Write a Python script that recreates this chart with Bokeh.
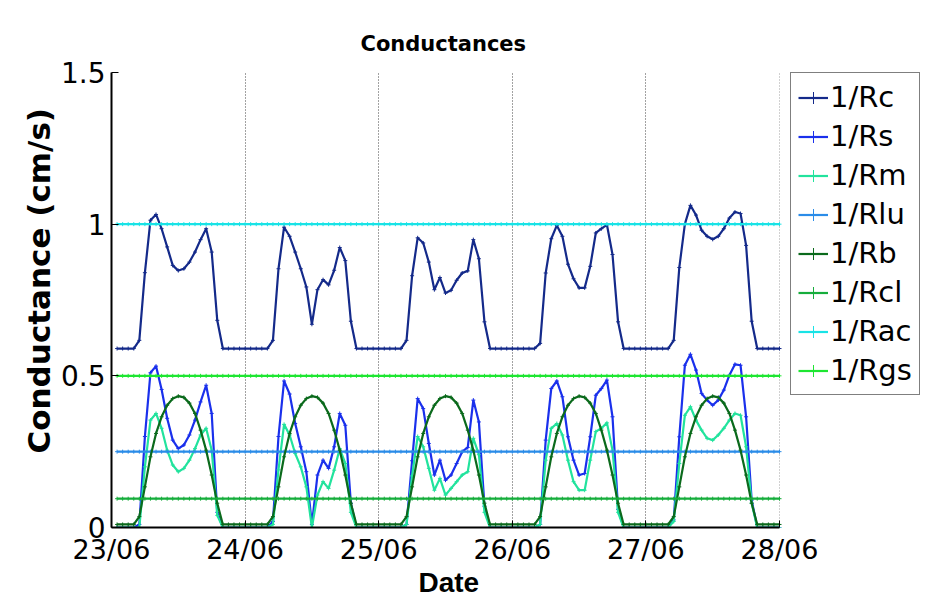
from datetime import datetime, timedelta
from bokeh.plotting import figure
from bokeh.models import (Legend, LegendItem, FixedTicker, DatetimeTickFormatter,
                          Range1d, ColumnDataSource, BoxAnnotation, Title)
from bokeh.embed import file_html
from bokeh.resources import INLINE

# ---------------- data (hourly, 23/06 01:00 .. 28/06 00:00) ----------------
start = datetime(2014, 6, 23, 0, 0)
end = datetime(2014, 6, 28, 0, 0)
hours = list(range(1, 121))

rc = [0.59, 0.59, 0.59, 0.59,
      0.617, 0.84, 1.013, 1.032, 0.985, 0.925, 0.864, 0.847, 0.853, 0.875, 0.908, 0.949, 0.985, 0.908, 0.683,
      0.59, 0.59, 0.59, 0.59, 0.59, 0.59, 0.59, 0.59, 0.59,
      0.617, 0.853, 0.99, 0.96, 0.908, 0.853, 0.793, 0.67, 0.784, 0.817, 0.80, 0.848, 0.923, 0.88, 0.68,
      0.59, 0.59, 0.59, 0.59, 0.59, 0.59, 0.59, 0.59, 0.59,
      0.617, 0.83, 0.955, 0.938, 0.875, 0.784, 0.824, 0.773, 0.782, 0.815, 0.839, 0.846, 0.949, 0.886, 0.678,
      0.59, 0.59, 0.59, 0.59, 0.59, 0.59, 0.59, 0.59, 0.59,
      0.607, 0.839, 0.952, 0.996, 0.96, 0.868, 0.82, 0.79, 0.79, 0.861, 0.971, 0.985, 0.998, 0.90, 0.678,
      0.59, 0.59, 0.59, 0.59, 0.59, 0.59, 0.59, 0.59, 0.59,
      0.617, 0.857, 1.0, 1.062, 1.03, 0.98, 0.96, 0.95, 0.96, 0.985, 1.02, 1.04, 1.035, 0.93, 0.68,
      0.59, 0.59, 0.59, 0.59, 0.59]

rs = [0, 0, 0, 0,
      0.01, 0.30, 0.51, 0.532, 0.455, 0.36, 0.288, 0.26, 0.272, 0.305, 0.354, 0.414, 0.469, 0.376, 0.05,
      0, 0, 0, 0, 0, 0, 0, 0, 0,
      0.02, 0.30, 0.483, 0.44, 0.343, 0.266, 0.184, 0.01, 0.173, 0.222, 0.195, 0.266, 0.376, 0.337, 0.08,
      0, 0, 0, 0, 0, 0, 0, 0, 0,
      0.01, 0.22, 0.425, 0.392, 0.277, 0.173, 0.222, 0.156, 0.173, 0.211, 0.25, 0.264, 0.42, 0.348, 0.07,
      0, 0, 0, 0, 0, 0, 0, 0, 0,
      0.01, 0.288, 0.458, 0.483, 0.431, 0.299, 0.222, 0.173, 0.178, 0.299, 0.436, 0.458, 0.486, 0.365, 0.06,
      0, 0, 0, 0, 0, 0, 0, 0, 0,
      0.025, 0.299, 0.535, 0.571, 0.519, 0.442, 0.42, 0.403, 0.42, 0.453, 0.502, 0.538, 0.535, 0.365, 0.09,
      0, 0, 0, 0, 0]

rm = [0, 0, 0, 0,
      0.0, 0.20, 0.354, 0.376, 0.327, 0.255, 0.206, 0.184, 0.195, 0.222, 0.26, 0.305, 0.327, 0.255, 0.04,
      0, 0, 0, 0, 0, 0, 0, 0, 0,
      0.01, 0.19, 0.34, 0.305, 0.244, 0.20, 0.134, 0.0, 0.107, 0.151, 0.129, 0.189, 0.26, 0.211, 0.05,
      0, 0, 0, 0, 0, 0, 0, 0, 0,
      0.01, 0.17, 0.30, 0.266, 0.195, 0.123, 0.162, 0.107, 0.129, 0.151, 0.173, 0.184, 0.294, 0.24, 0.05,
      0, 0, 0, 0, 0, 0, 0, 0, 0,
      0.01, 0.222, 0.327, 0.343, 0.305, 0.222, 0.151, 0.123, 0.123, 0.222, 0.316, 0.327, 0.345, 0.255, 0.05,
      0, 0, 0, 0, 0, 0, 0, 0, 0,
      0.02, 0.211, 0.37, 0.398, 0.354, 0.321, 0.294, 0.288, 0.305, 0.327, 0.354, 0.376, 0.37, 0.266, 0.08,
      0, 0, 0, 0, 0]

rb = [0.01, 0.01, 0.01, 0.01,
      0.036, 0.134, 0.233, 0.31, 0.365, 0.403, 0.425, 0.433, 0.429, 0.41, 0.376, 0.321, 0.255, 0.173, 0.08,
      0.01, 0.01, 0.01, 0.01, 0.01, 0.01, 0.01, 0.01, 0.01,
      0.036, 0.134, 0.233, 0.31, 0.365, 0.403, 0.425, 0.433, 0.429, 0.41, 0.376, 0.321, 0.255, 0.173, 0.08,
      0.01, 0.01, 0.01, 0.01, 0.01, 0.01, 0.01, 0.01, 0.01,
      0.036, 0.134, 0.233, 0.31, 0.365, 0.403, 0.425, 0.433, 0.429, 0.41, 0.376, 0.321, 0.255, 0.173, 0.08,
      0.01, 0.01, 0.01, 0.01, 0.01, 0.01, 0.01, 0.01, 0.01,
      0.036, 0.134, 0.233, 0.31, 0.365, 0.403, 0.425, 0.433, 0.429, 0.41, 0.376, 0.321, 0.255, 0.173, 0.08,
      0.01, 0.01, 0.01, 0.01, 0.01, 0.01, 0.01, 0.01, 0.01,
      0.036, 0.134, 0.233, 0.31, 0.365, 0.403, 0.425, 0.433, 0.429, 0.41, 0.376, 0.321, 0.255, 0.173, 0.08,
      0.01, 0.01, 0.01, 0.01, 0.01]

rlu_const = 0.25
rcl_const = 0.095
rac_const = 1.0
rgs_const = 0.5

labels = ["1/Rc", "1/Rs", "1/Rm", "1/Rlu", "1/Rb", "1/Rcl", "1/Rac", "1/Rgs"]
colors = ["#142a8a", "#1a30ec", "#22e39d", "#2b8ce8", "#0b6a1c", "#16ad3c", "#19e3e6", "#1ee632"]

y_ticks = [0, 0.5, 1, 1.5]
y_tick_labels = ["0", "0.5", "1", "1.5"]
day_ticks = [start + timedelta(days=d) for d in range(6)]

# ---------------- layout constants ----------------
W, H = 928, 601
LEFT, TOP, BOTTOM = 111, 72, 74
AXIS_W = 668                      # pixels used by the 5 plotted days
FRAME_W = W - LEFT                # frame extends under the legend area
span = (end - start) * FRAME_W / AXIS_W

times = [start + timedelta(hours=h) for h in hours]
series = [rc, rs, rm, [rlu_const] * len(hours), rb, [rcl_const] * len(hours),
          [rac_const] * len(hours), [rgs_const] * len(hours)]

p = figure(width=W, height=H, x_axis_type="datetime",
           x_range=Range1d(start, start + span),
           y_range=Range1d(0, 1.5),
           output_backend="svg", toolbar_location=None,
           min_border_left=LEFT, min_border_right=0, min_border_top=TOP, min_border_bottom=BOTTOM)

p.title.text = "Conductances"
p.title.align = "left"
p.title.offset = 249
p.title.text_font = "DejaVu Sans"
p.title.text_font_size = "21px"
p.title.text_font_style = "bold"
p.title.text_color = "black"
p.title.standoff = 33
p.outline_line_color = None
p.background_fill_color = "white"
p.border_fill_color = "white"

epoch = datetime(1970, 1, 1)
ms = lambda d: (d - epoch).total_seconds() * 1000.0
p.xaxis.ticker = FixedTicker(ticks=[ms(d) for d in day_ticks])
p.xaxis.bounds = (ms(start), ms(end))
fmt = "%d/%m"
p.xaxis.formatter = DatetimeTickFormatter(days=fmt, months=fmt, hours=fmt, hourmin=fmt,
                                          minutes=fmt, minsec=fmt, seconds=fmt, years=fmt,
                                          milliseconds=fmt, microseconds=fmt)
p.yaxis.ticker = FixedTicker(ticks=y_ticks)
p.yaxis.major_label_overrides = {t: l for t, l in zip(y_ticks, y_tick_labels)}

for ax in (p.xaxis, p.yaxis):
    ax.axis_line_color = "black"
    ax.axis_line_width = 2
    ax.major_tick_in = 7
    ax.major_tick_out = 0
    ax.minor_tick_in = 0
    ax.minor_tick_out = 0
    ax.major_tick_line_color = "black"
    ax.major_label_text_font = "DejaVu Sans"
    ax.major_label_text_color = "black"

p.xaxis.major_label_text_font_size = "27px"
p.yaxis.major_label_text_font_size = "28px"
p.xaxis.major_label_standoff = 6
p.yaxis.major_label_standoff = 6

y_title = Title(text="Conductance (cm/s)", align="left", offset=74, text_font="DejaVu Sans",
                text_font_size="31px", text_font_style="bold", text_color="black", standoff=2)
p.add_layout(y_title, "left")

date_title = Title(text="Date", align="left", offset=307, text_font="Liberation Sans",
                   text_font_size="28px", text_font_style="bold", text_color="black", standoff=-6)
p.add_layout(date_title, "below")

for g in (p.xgrid, p.ygrid):
    g.grid_line_color = "#444444"
    g.grid_line_dash = "1 2"
    g.grid_line_width = 1

# white cover to the right of the last day (grid-free legend area)
p.add_layout(BoxAnnotation(left=ms(end), fill_color="white", fill_alpha=1.0,
                           line_alpha=0, level="underlay"))

items = []
for lab, col, ys in zip(labels, colors, series):
    src = ColumnDataSource(dict(t=times, v=ys))
    r1 = p.line("t", "v", source=src, line_color=col, line_width=2.2)
    r2 = p.scatter("t", "v", source=src, marker="cross", size=4, line_color=col, line_width=1)
    items.append(LegendItem(label=lab, renderers=[r1, r2]))

legend = Legend(items=items, location=(AXIS_W + 11, 132))
legend.border_line_color = "black"
legend.border_line_width = 1
legend.background_fill_color = "white"
legend.background_fill_alpha = 1
legend.label_text_font = "DejaVu Sans"
legend.label_text_font_size = "29px"
legend.label_text_color = "black"
legend.glyph_width = 30
legend.glyph_height = 31
legend.label_height = 31
legend.spacing = 5
legend.padding = 7
legend.label_standoff = 2
legend.margin = 0
p.add_layout(legend, "center")

open("out.html", "w").write(file_html(p, INLINE))
